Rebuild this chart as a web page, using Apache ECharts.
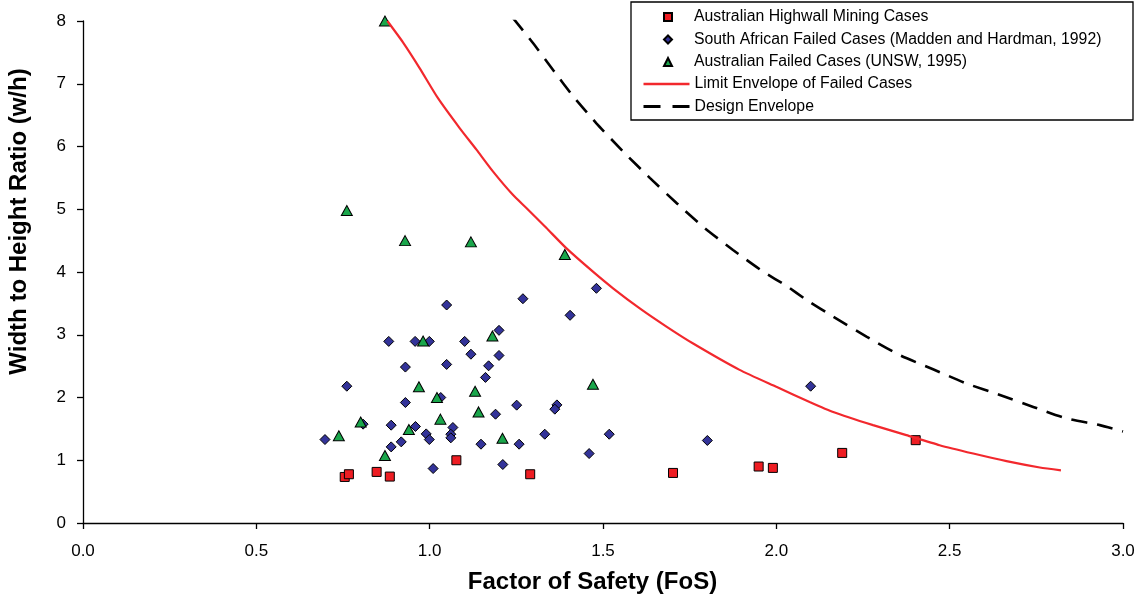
<!DOCTYPE html>
<html>
<head>
<meta charset="utf-8">
<script src="https://cdn.jsdelivr.net/npm/echarts@6.0.0/dist/echarts.min.js"></script>
<style>
html,body{margin:0;padding:0;background:#fff;}
#chart{width:1140px;height:601px;}
</style>
</head>
<body>
<div id="chart"></div>
<script>
// ---- data ----
const xAxisTitle = 'Factor of Safety (FoS)';
const yAxisTitle = 'Width to Height Ratio (w/h)';
const xTickLabels = ['0.0', '0.5', '1.0', '1.5', '2.0', '2.5', '3.0'];
const yTickLabels = ['0', '1', '2', '3', '4', '5', '6', '7', '8'];

const seriesNames = [
  'Australian Highwall Mining Cases',
  'South African Failed Cases (Madden and Hardman, 1992)',
  'Australian Failed Cases (UNSW, 1995)',
  'Limit Envelope of Failed Cases',
  'Design Envelope'
];

// Australian Highwall Mining Cases
const highwallFoS = [0.755, 0.767, 0.847, 0.885, 1.077, 1.290, 1.702, 1.949, 1.990, 2.190, 2.402];
const highwallWH  = [0.734, 0.777, 0.814, 0.740, 1.000, 0.777, 0.798, 0.900, 0.878, 1.117, 1.320];

// South African Failed Cases (Madden and Hardman, 1992)
const saFoS = [1.269, 1.049, 1.200, 0.882, 0.958, 0.999, 1.101, 1.119, 1.200, 0.930,
               1.049, 1.170, 1.161, 0.761, 1.032, 0.930, 1.251, 1.190, 0.808, 0.889,
               0.959, 1.067, 0.990, 1.061, 1.061, 0.999, 0.698, 0.918, 1.332, 1.148,
               1.258, 0.889, 1.211, 1.010, 1.367, 1.361, 1.518, 1.460, 1.481, 1.405,
               2.099, 1.801];
const saWH  = [3.574, 3.474, 3.070, 2.894, 2.894, 2.894, 2.894, 2.690, 2.670, 2.485,
               2.527, 2.505, 2.320, 2.180, 2.000, 1.920, 1.878, 1.734, 1.575, 1.559,
               1.538, 1.522, 1.420, 1.415, 1.357, 1.330, 1.330, 1.293, 1.415, 1.256,
               1.256, 1.213, 0.932, 0.868, 1.882, 1.814, 1.415, 1.107, 3.740, 3.310,
               2.180, 1.315];

// Australian Failed Cases (UNSW, 1995)
const unswFoS = [0.871, 0.761, 0.929, 1.119, 1.390, 0.981, 1.181, 0.969, 1.021, 1.131,
                 1.141, 1.031, 0.801, 0.940, 0.738, 1.210, 0.871, 1.471];
const unswWH  = [8.000, 4.980, 4.500, 4.480, 4.280, 2.900, 2.980, 2.170, 2.000, 2.100,
                 1.770, 1.655, 1.610, 1.490, 1.390, 1.350, 1.075, 2.210];

// Limit Envelope of Failed Cases
const limitFoS = [0.878, 0.923, 0.971, 1.024, 1.087, 1.135, 1.183, 1.240, 1.279, 1.337,
                  1.394, 1.471, 1.529, 1.606, 1.683, 1.760, 1.894, 2.000, 2.096, 2.164,
                  2.279, 2.375, 2.471, 2.568, 2.664, 2.760, 2.821];
const limitWH  = [8.000, 7.660, 7.250, 6.770, 6.290, 5.950, 5.600, 5.230, 5.020, 4.700,
                  4.380, 4.005, 3.740, 3.420, 3.130, 2.860, 2.440, 2.170, 1.930, 1.770,
                  1.560, 1.400, 1.240, 1.107, 0.985, 0.884, 0.840];

// Design Envelope
const designFoS = [1.240, 1.298, 1.356, 1.414, 1.481, 1.558, 1.635, 1.712, 1.789, 1.875,
                   1.962, 2.029, 2.087, 2.164, 2.260, 2.356, 2.452, 2.548, 2.645, 2.741,
                   2.837, 2.933, 3.000];
const designWH  = [8.050, 7.650, 7.220, 6.800, 6.370, 5.920, 5.500, 5.100, 4.720, 4.350,
                   4.005, 3.780, 3.554, 3.290, 2.970, 2.676, 2.450, 2.224, 2.040, 1.850,
                   1.666, 1.560, 1.460];

// ---- build chart ----
function zip(xs, ys) { return xs.map((x, i) => [x, ys[i]]); }
const FONT = 'Arial, "Liberation Sans", Helvetica, sans-serif';

const chart = echarts.init(document.getElementById('chart'), null, { renderer: 'canvas' });

const legendText = { fontSize: 15.8, color: '#000', fontFamily: FONT };

const option = {
  animation: false,
  backgroundColor: '#ffffff',
  textStyle: { fontFamily: FONT },
  grid: { left: 83, right: 17, top: 21, bottom: 78, containLabel: false },
  xAxis: {
    type: 'value', min: 0, max: 3, interval: 0.5,
    axisLine: { show: true, onZero: false, lineStyle: { color: '#000', width: 1.3 } },
    axisTick: { show: true, inside: false, length: 6, lineStyle: { color: '#000', width: 1.3 } },
    splitLine: { show: false },
    axisLabel: {
      color: '#000', fontSize: 17, fontFamily: FONT, margin: 20,
      formatter: (v) => xTickLabels[Math.round(v / 0.5)]
    }
  },
  yAxis: {
    type: 'value', min: 0, max: 8, interval: 1,
    axisLine: { show: true, onZero: false, lineStyle: { color: '#000', width: 1.3 } },
    axisTick: { show: true, inside: false, length: 6, lineStyle: { color: '#000', width: 1.3 } },
    splitLine: { show: false },
    axisLabel: {
      color: '#000', fontSize: 17, fontFamily: FONT, margin: 17,
      formatter: (v) => yTickLabels[Math.round(v)]
    }
  },
  legend: [
    {
      orient: 'vertical', left: 663, top: 9, padding: 0, z: 6,
      itemGap: 6.5, itemWidth: 8, itemHeight: 8,
      textStyle: Object.assign({ padding: [0, 0, 0, 17] }, legendText),
      data: seriesNames.slice(0, 3)
    },
    {
      orient: 'vertical', left: 642, top: 76, padding: 0, z: 6,
      itemGap: 6.5, itemWidth: 46, itemHeight: 8,
      textStyle: legendText,
      itemStyle: { color: 'rgba(0,0,0,0)', borderColor: 'rgba(0,0,0,0)', borderWidth: 0, opacity: 0 },
      data: [
        { name: seriesNames[3], lineStyle: { width: 2.4 } },
        { name: seriesNames[4], lineStyle: { width: 3, type: [17, 12] } }
      ]
    }
  ],
  graphic: [
    {
      type: 'rect', z: 1,
      shape: { x: 631, y: 2, width: 502, height: 118 },
      style: { fill: '#fff', stroke: '#000', lineWidth: 1.3 }
    },
    {
      type: 'text', x: 592.5, y: 582,
      style: { text: xAxisTitle, font: 'bold 24px ' + FONT, fill: '#000',
               textAlign: 'center', textVerticalAlign: 'middle' }
    },
    {
      type: 'text', x: 19.5, y: 221.5, rotation: Math.PI / 2,
      style: { text: yAxisTitle, font: 'bold 24px ' + FONT, fill: '#000',
               textAlign: 'center', textVerticalAlign: 'middle' }
    }
  ],
  series: [
    {
      name: seriesNames[0], type: 'scatter', symbol: 'rect', symbolSize: 9,
      itemStyle: { color: '#ee1d23', borderColor: '#000', borderWidth: 1, opacity: 1 },
      data: zip(highwallFoS, highwallWH), z: 3
    },
    {
      name: seriesNames[1], type: 'scatter', symbol: 'diamond', symbolSize: 10,
      itemStyle: { color: '#333399', borderColor: '#000', borderWidth: 1, opacity: 1 },
      data: zip(saFoS, saWH), z: 3
    },
    {
      name: seriesNames[2], type: 'scatter', symbol: 'triangle', symbolSize: [11, 10],
      itemStyle: { color: '#1aa64b', borderColor: '#000', borderWidth: 1, opacity: 1 },
      data: zip(unswFoS, unswWH), z: 3
    },
    {
      name: seriesNames[3], type: 'line', showSymbol: false, symbol: 'none', smooth: 0.2,
      lineStyle: { color: '#f2282d', width: 2.2 },
      itemStyle: { color: '#f2282d' },
      data: zip(limitFoS, limitWH), z: 4
    },
    {
      name: seriesNames[4], type: 'line', showSymbol: false, symbol: 'none', smooth: 0.2,
      lineStyle: { color: '#000', width: 2.6, type: [16, 10], cap: 'butt' },
      itemStyle: { color: '#000' },
      data: zip(designFoS, designWH), z: 4
    }
  ]
};
chart.setOption(option);
</script>
</body>
</html>
